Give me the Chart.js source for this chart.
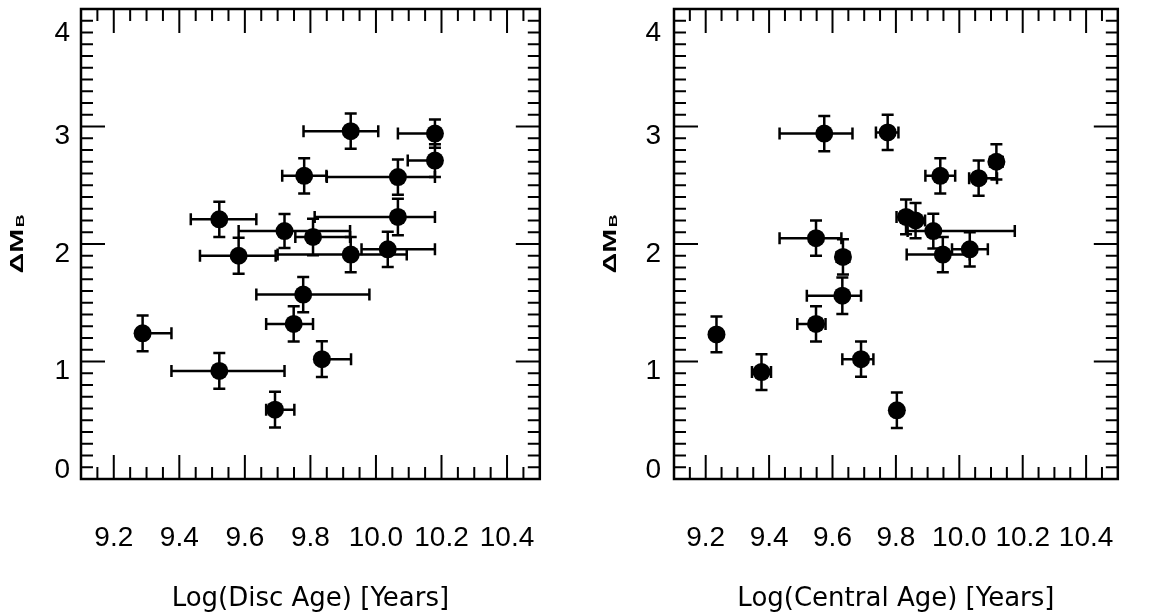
<!DOCTYPE html>
<html>
<head>
<meta charset="utf-8">
<script src="https://cdn.jsdelivr.net/npm/chart.js@4.4.1/dist/chart.umd.min.js"></script>
<style>
  html, body { margin: 0; padding: 0; background: #ffffff; }
  #wrap { position: relative; width: 1156px; height: 616px; background: #ffffff; }
  .pane { position: absolute; top: 0; width: 578px; height: 616px; }
</style>
</head>
<body>
<div id="wrap">
  <div class="pane" style="left:0px"><canvas id="discChart"></canvas></div>
  <div class="pane" style="left:578px"><canvas id="centralChart"></canvas></div>
</div>
<script>
// ---------- axis ticks ----------
const xTickValues = [9.2, 9.4, 9.6, 9.8, 10.0, 10.2, 10.4];
const xTickLabels = ['9.2', '9.4', '9.6', '9.8', '10.0', '10.2', '10.4'];
const yTickValues = [0, 1, 2, 3, 4];
const yTickLabels = ['0', '1', '2', '3', '4'];
const yTitleMain = 'ΔM';
const yTitleSub = 'B';

// ---------- left panel: disc age ----------
const discTitle = 'Log(Disc Age) [Years]';
const discAge         = [9.923, 10.180, 10.180, 9.781, 10.067, 10.067, 9.522, 9.721, 9.808, 9.581, 9.923, 10.036, 9.778, 9.749, 9.288, 9.835, 9.522, 9.692];
const discAgeErrMinus = [0.144, 0.113,  0.083,  0.067, 0.217,  0.254,  0.087, 0.140, 0.054, 0.118, 0.223, 0.080,  0.143, 0.084, 0.000, 0.000, 0.146, 0.027];
const discAgeErrPlus  = [0.084, 0.000,  0.000,  0.068, 0.113,  0.113,  0.113, 0.200, 0.113, 0.113, 0.171, 0.144,  0.202, 0.059, 0.088, 0.089, 0.199, 0.059];
const discDeltaMB     = [2.96,  2.94,   2.71,   2.58,  2.57,   2.23,   2.21,  2.11,  2.06,  1.90,  1.91,  1.955,  1.57,  1.32,  1.24,  1.02,  0.92,  0.59];
const discDeltaMBErr  = [0.15,  0.12,   0.14,   0.15,  0.15,   0.155,  0.15,  0.145, 0.155, 0.153, 0.15,  0.15,   0.15,  0.15,  0.152, 0.152, 0.152, 0.152];

// ---------- right panel: central age ----------
const centralTitle = 'Log(Central Age) [Years]';
const centralAge         = [9.574, 9.774, 9.940, 10.061, 10.117, 9.832, 9.862, 9.918, 9.948, 10.033, 9.548, 9.633, 9.631, 9.548, 9.234, 9.690, 9.376, 9.803];
const centralAgeErrMinus = [0.141, 0.037, 0.047, 0.030,  0.020,  0.030, 0.030, 0.081, 0.114, 0.056,  0.115, 0.020, 0.112, 0.059, 0.000, 0.059, 0.030, 0.000];
const centralAgeErrPlus  = [0.089, 0.034, 0.047, 0.058,  0.020,  0.020, 0.030, 0.257, 0.085, 0.057,  0.080, 0.020, 0.059, 0.030, 0.000, 0.039, 0.030, 0.000];
const centralDeltaMB     = [2.94,  2.95,  2.58,  2.56,   2.70,   2.23,  2.20,  2.11,  1.91,  1.955,  2.05,  1.89,  1.56,  1.32,  1.23,  1.02,  0.91,  0.585];
const centralDeltaMBErr  = [0.15,  0.15,  0.15,  0.15,   0.15,   0.148, 0.15,  0.148, 0.15,  0.146,  0.15,  0.15,  0.155, 0.15,  0.152, 0.15,  0.152, 0.152];

Chart.defaults.color = '#000000';
Chart.defaults.font.family = "'Liberation Sans', Arial, sans-serif";

const TICK_FONT = "28px 'Liberation Sans', Arial, sans-serif";

const framePlugin = {
  id: 'framePlugin',
  beforeDatasetsDraw(chart, args, opts) {
    const { ctx, chartArea: a, scales } = chart;
    const x = scales.x, y = scales.y;
    ctx.save();
    ctx.strokeStyle = '#000000';
    ctx.lineCap = 'butt';

    // inward tick marks on all four sides
    ctx.lineWidth = 2;
    ctx.beginPath();
    for (let i = 1; ; i++) {
      const v = x.min + i * 0.05;
      if (v >= x.max - 1e-6) break;
      const major = xTickValues.some(t => Math.abs(t - v) < 1e-6);
      const L = major ? 24 : 12;
      const px = x.getPixelForValue(v);
      ctx.moveTo(px, a.bottom); ctx.lineTo(px, a.bottom - L);
      ctx.moveTo(px, a.top); ctx.lineTo(px, a.top + L);
    }
    for (let i = 1; ; i++) {
      const v = y.min + i * 0.1;
      if (v >= y.max - 1e-6) break;
      const major = yTickValues.some(t => Math.abs(t - v) < 1e-6);
      const L = major ? 24 : 12;
      const py = y.getPixelForValue(v);
      ctx.moveTo(a.left, py); ctx.lineTo(a.left + L, py);
      ctx.moveTo(a.right, py); ctx.lineTo(a.right - L, py);
    }
    ctx.stroke();

    // frame
    ctx.lineWidth = 2.5;
    ctx.strokeRect(a.left, a.top, a.right - a.left, a.bottom - a.top);

    // error bars
    ctx.lineWidth = 2.5;
    const cap = 6;
    chart.data.datasets.forEach(ds => {
      ds.data.forEach((p, i) => {
        const cx = x.getPixelForValue(p.x), cy = y.getPixelForValue(p.y);
        const xl = ds.xErrMinus[i], xh = ds.xErrPlus[i], ye = ds.yErr[i];
        ctx.beginPath();
        if (ye > 0) {
          const yt = y.getPixelForValue(p.y + ye), yb = y.getPixelForValue(p.y - ye);
          ctx.moveTo(cx, yt); ctx.lineTo(cx, yb);
          ctx.moveTo(cx - cap, yt); ctx.lineTo(cx + cap, yt);
          ctx.moveTo(cx - cap, yb); ctx.lineTo(cx + cap, yb);
        }
        if (xl > 0) {
          const xa = x.getPixelForValue(p.x - xl);
          ctx.moveTo(cx, cy); ctx.lineTo(xa, cy);
          ctx.moveTo(xa, cy - cap); ctx.lineTo(xa, cy + cap);
        }
        if (xh > 0) {
          const xb = x.getPixelForValue(p.x + xh);
          ctx.moveTo(cx, cy); ctx.lineTo(xb, cy);
          ctx.moveTo(xb, cy - cap); ctx.lineTo(xb, cy + cap);
        }
        ctx.stroke();
      });
    });
    ctx.restore();
  },
  afterDraw(chart, args, opts) {
    const { ctx, chartArea: a, scales } = chart;
    const y = scales.y;
    ctx.save();
    ctx.fillStyle = '#000000';
    // y tick labels (kept inside the frame's vertical extent, as in the original)
    ctx.font = TICK_FONT;
    ctx.textAlign = 'right';
    ctx.textBaseline = 'middle';
    yTickValues.forEach((v, i) => {
      let py = y.getPixelForValue(v) + 10;
      py = Math.max(a.top + 24, Math.min(a.bottom - 9, py));
      ctx.fillText(yTickLabels[i], a.left - opts.labelGap, py);
    });
    // y title: ΔM with subscript B, rotated
    ctx.translate(a.left - 58.5, (a.top + a.bottom) / 2);
    ctx.rotate(-Math.PI / 2);
    ctx.scale(1.6, 1);
    ctx.textAlign = 'left';
    ctx.textBaseline = 'alphabetic';
    const mainFont = "bold 18px 'Liberation Sans', Arial, sans-serif";
    const subFont = "bold 11px 'Liberation Sans', Arial, sans-serif";
    ctx.font = mainFont;
    const wMain = ctx.measureText(yTitleMain).width;
    ctx.font = subFont;
    const wSub = ctx.measureText(yTitleSub).width;
    const start = -(wMain + wSub + 1) / 2;
    ctx.font = mainFont;
    ctx.fillText(yTitleMain, start, 0);
    ctx.font = subFont;
    ctx.fillText(yTitleSub, start + wMain + 1, 1.5);
    ctx.restore();
  }
};

function makeChart(canvasId, title, ages, errMinus, errPlus, dmb, dmbErr, yAxisWidth, rightPad, labelGap) {
  const points = ages.map((v, i) => ({ x: v, y: dmb[i] }));
  return new Chart(document.getElementById(canvasId), {
    type: 'scatter',
    data: {
      datasets: [{
        data: points,
        xErrMinus: errMinus,
        xErrPlus: errPlus,
        yErr: dmbErr,
        pointRadius: 9,
        pointHoverRadius: 9,
        pointBorderWidth: 0,
        backgroundColor: '#000000',
        borderColor: '#000000',
        clip: false
      }]
    },
    options: {
      responsive: true,
      maintainAspectRatio: false,
      animation: false,
      events: [],
      layout: { padding: { left: 0, top: 8, right: rightPad, bottom: 0 } },
      plugins: {
        legend: { display: false },
        tooltip: { enabled: false },
        framePlugin: { labelGap: labelGap }
      },
      scales: {
        x: {
          type: 'linear',
          position: 'bottom',
          min: 9.1,
          max: 10.5,
          afterBuildTicks: s => { s.ticks = xTickValues.map(v => ({ value: v })); },
          afterFit: s => { s.height = 137; },
          grid: { display: false, drawTicks: false },
          border: { display: false },
          ticks: {
            autoSkip: false,
            maxRotation: 0,
            minRotation: 0,
            padding: 42,
            color: '#000000',
            font: { size: 28, family: "'Liberation Sans', Arial, sans-serif" },
            callback: (value, index) => xTickLabels[index]
          },
          title: {
            display: true,
            text: title,
            color: '#000000',
            font: { size: 26, family: "'DejaVu Sans', sans-serif" },
            padding: { top: 0, bottom: 1 }
          }
        },
        y: {
          type: 'linear',
          min: 0,
          max: 4,
          afterFit: s => { s.width = yAxisWidth; },
          grid: { display: false, drawTicks: false },
          border: { display: false },
          ticks: { display: false, stepSize: 1 }
        }
      }
    },
    plugins: [framePlugin]
  });
}

makeChart('discChart', discTitle, discAge, discAgeErrMinus, discAgeErrPlus, discDeltaMB, discDeltaMBErr, 81, 24, 11);
makeChart('centralChart', centralTitle, centralAge, centralAgeErrMinus, centralAgeErrPlus, centralDeltaMB, centralDeltaMBErr, 96, 7, 13);
</script>
</body>
</html>
